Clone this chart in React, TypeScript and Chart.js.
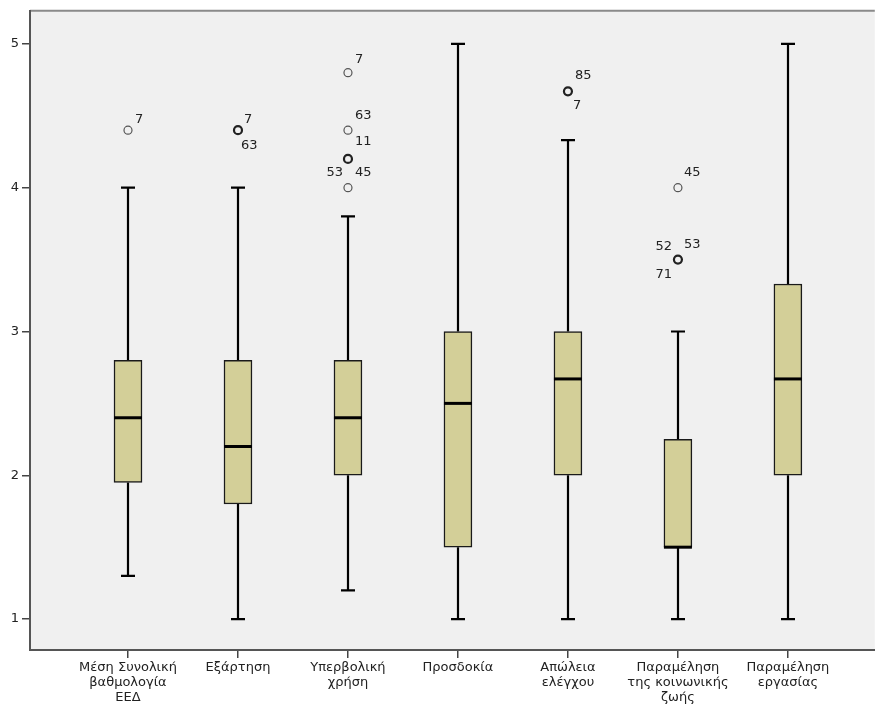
import { useEffect, useRef } from "react";
import { Chart, registerables } from "chart.js";

Chart.register(...registerables);

const categories: string[][] = [
  ["Μέση Συνολική", "βαθμολογία", "ΕΕΔ"],
  ["Εξάρτηση"],
  ["Υπερβολική", "χρήση"],
  ["Προσδοκία"],
  ["Απώλεια", "ελέγχου"],
  ["Παραμέληση", "της κοινωνικής", "ζωής"],
  ["Παραμέληση", "εργασίας"],
];
const whiskerLow = [1.3, 1.0, 1.2, 1.0, 1.0, 1.0, 1.0];
const q1 = [1.95, 1.8, 2.0, 1.5, 2.0, 1.5, 2.0];
const median = [2.4, 2.2, 2.4, 2.5, 2.67, 1.5, 2.67];
const q3 = [2.8, 2.8, 2.8, 3.0, 3.0, 2.25, 3.33];
const whiskerHigh = [4.0, 4.0, 3.8, 5.0, 4.33, 3.0, 5.0];

const outlierCategory = [1, 2, 3, 3, 3, 3, 5, 6, 6];
const outlierValue = [4.4, 4.4, 4.8, 4.4, 4.2, 4.0, 4.67, 4.0, 3.5];
const outlierMultiple = [false, true, false, false, true, false, true, false, true];

const labelCategory = [1, 2, 2, 3, 3, 3, 3, 3, 5, 5, 6, 6, 6, 6];
const labelValue = [4.4, 4.4, 4.4, 4.8, 4.4, 4.2, 4.0, 4.0, 4.67, 4.67, 4.0, 3.5, 3.5, 3.5];
const labelText = ["7", "7", "63", "7", "63", "11", "53", "45", "85", "7", "45", "52", "53", "71"];
// styling: pixel offsets of each case label from its point
const labelOffsets: [number, number, CanvasTextAlign][] = [
  [7, -11, "left"],
  [6, -11, "left"],
  [3, 15, "left"],
  [7, -13, "left"],
  [7, -15, "left"],
  [7, -17, "left"],
  [-5, -15, "right"],
  [7, -15, "left"],
  [7, -16, "left"],
  [5, 14, "left"],
  [6, -15, "left"],
  [-6, -13, "right"],
  [6, -15, "left"],
  [-6, 15, "right"],
];

const yTicks = [1, 2, 3, 4, 5];

const FONT = "'DejaVu Sans', 'Liberation Sans', Arial, sans-serif";

const boxPlugin = {
  id: "boxExtras",
  beforeDraw(chart: any) {
    const { ctx, chartArea, width, height } = chart;
    ctx.save();
    ctx.fillStyle = "#ffffff";
    ctx.fillRect(0, 0, width, height);
    ctx.fillStyle = "#F0F0F0";
    ctx.fillRect(chartArea.left, chartArea.top, chartArea.right - chartArea.left, chartArea.bottom - chartArea.top);
    ctx.strokeStyle = "#8a8a8a";
    ctx.lineWidth = 2;
    ctx.beginPath();
    ctx.moveTo(chartArea.left, chartArea.top);
    ctx.lineTo(chartArea.right, chartArea.top);
    ctx.stroke();
    ctx.restore();
  },
  beforeDatasetsDraw(chart: any) {
    const { ctx } = chart;
    const xs = chart.scales.x;
    const ys = chart.scales.y;
    ctx.save();
    ctx.strokeStyle = "#000";
    ctx.lineWidth = 2.2;
    const cap = 7;
    for (let i = 0; i < q1.length; i++) {
      const x = Math.round(xs.getPixelForValue(i + 1));
      const yl = ys.getPixelForValue(whiskerLow[i]);
      const yq1 = ys.getPixelForValue(q1[i]);
      const yq3 = ys.getPixelForValue(q3[i]);
      const yh = ys.getPixelForValue(whiskerHigh[i]);
      ctx.beginPath();
      ctx.moveTo(x, yq3);
      ctx.lineTo(x, yh);
      ctx.moveTo(x - cap, yh);
      ctx.lineTo(x + cap, yh);
      ctx.moveTo(x, yq1);
      ctx.lineTo(x, yl);
      ctx.moveTo(x - cap, yl);
      ctx.lineTo(x + cap, yl);
      ctx.stroke();
    }
    ctx.restore();
  },
  afterDatasetsDraw(chart: any) {
    const { ctx } = chart;
    const xs = chart.scales.x;
    const ys = chart.scales.y;
    ctx.save();
    ctx.strokeStyle = "#000";
    ctx.lineWidth = 3;
    for (let i = 0; i < median.length; i++) {
      const x = xs.getPixelForValue(i + 1);
      const y = ys.getPixelForValue(median[i]);
      ctx.beginPath();
      ctx.moveTo(x - 14, y);
      ctx.lineTo(x + 14, y);
      ctx.stroke();
    }
    ctx.fillStyle = "#222";
    ctx.font = "13px " + FONT;
    ctx.textBaseline = "middle";
    for (let i = 0; i < labelText.length; i++) {
      const x = xs.getPixelForValue(labelCategory[i]);
      const y = ys.getPixelForValue(labelValue[i]);
      const [dx, dy, align] = labelOffsets[i];
      ctx.textAlign = align;
      ctx.fillText(labelText[i], x + dx, y + dy);
    }
    ctx.restore();
  },
};

export default function App() {
  const ref = useRef<HTMLCanvasElement | null>(null);
  useEffect(() => {
    if (!ref.current) return;
    const chart = new Chart(ref.current, {
      type: "bar",
      data: {
        datasets: [
          {
            type: "bar",
            data: q1.map((v, i) => ({ x: i + 1, y: [v, q3[i]] })) as any,
            backgroundColor: "#D3CF98",
            borderColor: "#1a1a1a",
            borderWidth: 1.5,
            borderSkipped: false,
            barThickness: 28,
          } as any,
          {
            type: "scatter",
            data: outlierValue.map((v, i) => ({ x: outlierCategory[i], y: v })) as any,
            pointRadius: 4,
            pointHoverRadius: 4,
            pointBorderWidth: outlierMultiple.map((m) => (m ? 2.2 : 1.2)),
            pointBorderColor: outlierMultiple.map((m) => (m ? "#222" : "#555")),
            pointBackgroundColor: "rgba(0,0,0,0)",
          } as any,
        ],
      },
      options: {
        animation: false,
        responsive: false,
        layout: { padding: { top: 9, right: 0, left: 0, bottom: 0 } },
        plugins: { legend: { display: false }, tooltip: { enabled: false } },
        scales: {
          x: {
            type: "linear",
            offset: false,
            min: 0.109,
            max: 7.79,
            afterBuildTicks: (s: any) => {
              s.ticks = categories.map((_, i) => ({ value: i + 1 }));
            },
            afterFit: (s: any) => {
              s.height = 56;
              s.paddingLeft = 0;
              s.paddingRight = 0;
            },
            grid: { offset: false, drawOnChartArea: false, drawTicks: true, tickLength: 8, color: "#444", lineWidth: 1.5 },
            border: { display: true, color: "#555", width: 2 },
            ticks: {
              autoSkip: false,
              maxRotation: 0,
              padding: 2,
              color: "#222",
              font: { family: FONT, size: 13, lineHeight: 1.15 },
              callback: (v: any) => categories[Math.round(v) - 1] ?? "",
            },
          },
          y: {
            type: "linear",
            min: 0.785,
            max: 5.23,
            afterBuildTicks: (s: any) => {
              s.ticks = yTicks.map((v) => ({ value: v }));
            },
            afterFit: (s: any) => {
              s.width = 30;
            },
            grid: { drawOnChartArea: false, drawTicks: true, tickLength: 8, color: "#444", lineWidth: 1.5 },
            border: { display: true, color: "#555", width: 2 },
            ticks: {
              padding: 3,
              color: "#222",
              font: { family: FONT, size: 13 },
              callback: (v: any) => String(v),
            },
          },
        },
      },
      plugins: [boxPlugin],
    });
    return () => chart.destroy();
  }, []);
  return (
    <div style={{ position: "fixed", left: 0, top: 0, width: 875, height: 706, overflow: "hidden" }}>
      <canvas ref={ref} width={881} height={706} style={{ display: "block" }} />
    </div>
  );
}
